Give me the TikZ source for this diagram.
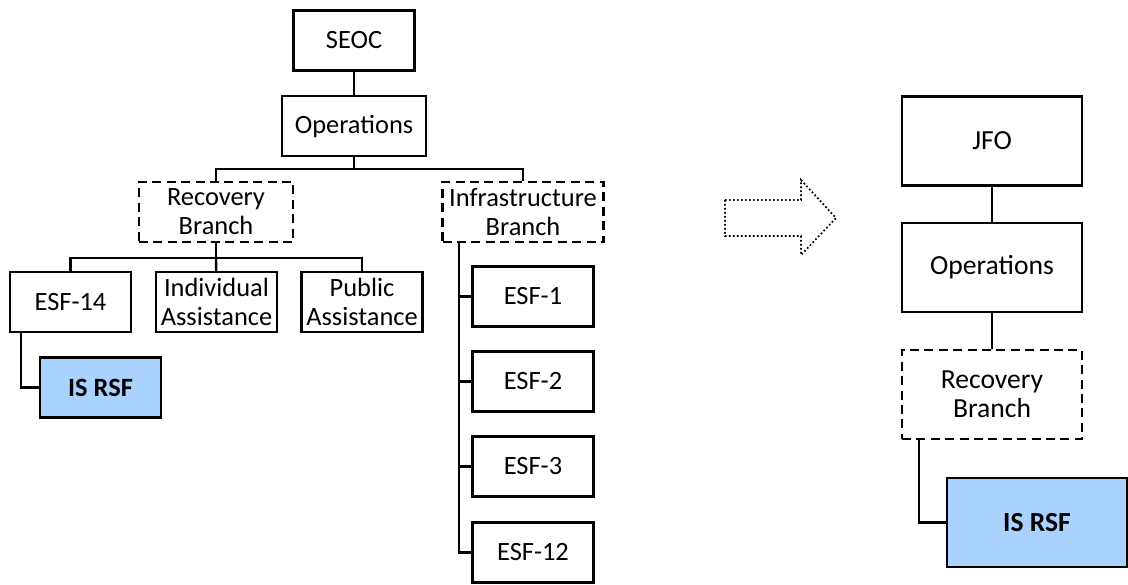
\documentclass[tikz,border=0pt]{standalone}
\usepackage{fontspec}
\setmainfont{Carlito}
\usepackage{xcolor}
\usetikzlibrary{calc}

\definecolor{rsfblue}{RGB}{170,210,255}
\newcommand{\leftsize}{\fontsize{13.2pt}{14.6pt}\selectfont}
\newcommand{\rightsize}{\fontsize{13.8pt}{14.6pt}\selectfont}

\tikzset{
  orgbox/.style={draw, line width=1.25pt, inner sep=0pt, align=center},
  branchbox/.style={orgbox, dash pattern=on 4.5pt off 2.7pt},
  rsfbox/.style={orgbox, fill=rsfblue, execute at begin node=\bfseries},
  smallbox/.style={minimum width=60.5pt, minimum height=30pt},
  bigbox/.style={minimum width=90pt, minimum height=44.5pt},
  link/.style={line width=1.2pt},
}

\begin{document}
\begin{tikzpicture}[x=0.5pt,y=-0.5pt]
  \useasboundingbox (0,0) rectangle (1128,584);

  % ---- state level (SEOC) ----
  \begin{scope}[font=\leftsize]
    \node[orgbox,smallbox] (seoc) at (354,40.5) {SEOC};
    \node[orgbox,smallbox,minimum width=72pt] (opsL) at (354,126) {Operations};
    \node[branchbox,smallbox,minimum width=77pt] (recL) at (216,212) {Recovery\\Branch};
    \node[branchbox,smallbox,minimum width=80.5pt] (infra) at (523,212) {Infrastructure\\Branch};

    % recovery branch children
    \node[orgbox,smallbox] (esf14) at (70.5,302) {ESF-14};
    \node[orgbox,smallbox] (indiv) at (216.5,302) {Individual\\Assistance};
    \node[orgbox,smallbox] (public) at (362,302) {Public\\Assistance};
    \node[rsfbox,smallbox] (rsfL) at (100.5,387.5) {IS RSF};

    % infrastructure branch children
    \node[orgbox,smallbox] (esf1)  at (533,296.5) {ESF-1};
    \node[orgbox,smallbox] (esf2)  at (533,381.5) {ESF-2};
    \node[orgbox,smallbox] (esf3)  at (533,466.5) {ESF-3};
    \node[orgbox,smallbox] (esf12) at (533,552.5) {ESF-12};
  \end{scope}

  \coordinate (opsbus) at (354,169);
  \coordinate (recbus) at (216,258);
  \coordinate (spine)  at (459,242);

  \draw[link] (seoc) -- (opsL);
  \draw[link] (opsL) -- (opsbus) -| (recL);
  \draw[link] (opsbus) -| (infra);
  \draw[link] (recL) -- (recbus) -| (esf14);
  \draw[link] (recbus) -- (indiv);
  \draw[link] (recbus) -| (public);
  \draw[link] ([xshift=6pt]esf14.south west) |- (rsfL);
  \draw[link] (spine) |- (esf12);
  \foreach \n in {esf1,esf2,esf3}
    \draw[link] (\n.west) -- (\n.west -| spine);

  % ---- hand-over arrow ----
  \draw[line width=0.85pt, dash pattern=on 0.85pt off 1.15pt]
    (725,200) -- (801,200) -- (801,180) -- (836,218) -- (801,255)
    -- (801,236) -- (725,236) -- cycle;

  % ---- federal level (JFO) ----
  \begin{scope}[font=\rightsize]
    \node[orgbox,bigbox] (jfo)  at (992,141) {JFO};
    \node[orgbox,bigbox] (opsR) at (992,267.5) {Operations};
    \node[branchbox,bigbox] (recR) at (992,394.5) {Recovery\\Branch};
    \node[rsfbox,bigbox] (rsfR) at (1037,522.5) {IS RSF};
  \end{scope}

  \draw[link] (jfo) -- (opsR);
  \draw[link] (opsR) -- (recR);
  \draw[link] ([xshift=9pt]recR.south west) |- (rsfR);
\end{tikzpicture}
\end{document}
